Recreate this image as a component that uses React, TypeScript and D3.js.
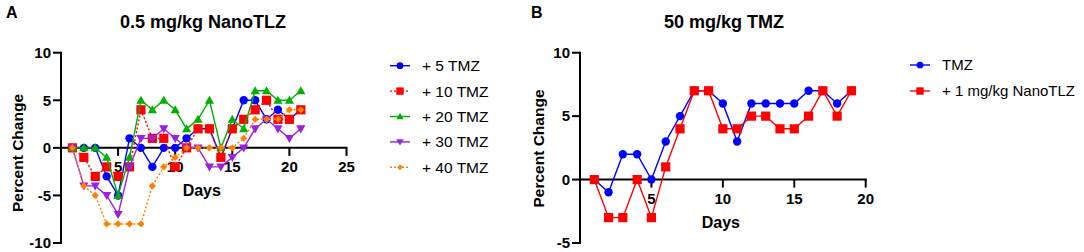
import React from "react";
import * as d3 from "d3";

const daysA = d3.range(1, 22);
const tmz5 = [0, 0, 0, -3, -5, 1, 0, -2, 0, 0, 1, 2, 2, -1, 2, 5, 5, 3, 4, 3, 4];
const tmz10 = [0, -1, -3, -2, -3, -2, 4, 1, 1, -2, 0, 2, 2, -1, 2, 3, 4, 5, 3, 3, 4];
const tmz20 = [0, 0, 0, -1, -5, -1, 5, 4, 5, 4, 2, 3, 5, 0, 3, 2, 6, 6, 5, 5, 6];
const tmz30 = [0, -4, -4, -5, -7, -2, 1, 1, 2, 1, 0, 0, -2, -2, -1, 0, 2, 3, 2, 1, 2];
const tmz40 = [0, -4, -5, -8, -8, -8, -8, -4, -2, -1, 0, 0, 0, 0, 0, 1, 3, 3, 3, 4, 4];

const daysB = d3.range(1, 20);
const tmzOnly = [0, -1, 2, 2, 0, 3, 5, 7, 7, 6, 3, 6, 6, 6, 6, 7, 7, 6, 7];
const tmzNano = [0, -3, -3, 0, -3, 1, 4, 7, 7, 4, 4, 5, 5, 4, 4, 5, 7, 5, 7];

const xTicksA = [5, 10, 15, 20, 25];
const yTicksA = [-10, -5, 0, 5, 10];
const xTicksB = [5, 10, 15, 20];
const yTicksB = [-5, 0, 5, 10];

type Series = { name: string; values: number[]; color: string; shape: string; dashed: boolean };

const seriesA: Series[] = [
  { name: "+ 5 TMZ", values: tmz5, color: "#0000ff", shape: "circle", dashed: false },
  { name: "+ 10 TMZ", values: tmz10, color: "#ff0000", shape: "square", dashed: true },
  { name: "+ 20 TMZ", values: tmz20, color: "#00b000", shape: "triangle", dashed: false },
  { name: "+ 30 TMZ", values: tmz30, color: "#9b1fe0", shape: "triangleDown", dashed: false },
  { name: "+ 40 TMZ", values: tmz40, color: "#ff8000", shape: "diamond", dashed: true },
];
const seriesB: Series[] = [
  { name: "TMZ", values: tmzOnly, color: "#0000ff", shape: "circle", dashed: false },
  { name: "+ 1 mg/kg NanoTLZ", values: tmzNano, color: "#ff0000", shape: "square", dashed: false },
];

const FONT = "Arial, 'Liberation Sans', Helvetica, sans-serif";

function Marker({ shape, x, y, color, scale = 1 }: { shape: string; x: number; y: number; color: string; scale?: number }) {
  const s = scale;
  if (shape === "circle") return <circle cx={x} cy={y} r={4.2 * s} fill={color} />;
  if (shape === "square") return <rect x={x - 4.6 * s} y={y - 4.6 * s} width={9.2 * s} height={9.2 * s} fill={color} />;
  if (shape === "triangle") {
    const r = 4.6 * s;
    return <path d={`M${x},${y - r}L${x + r},${y + r * 0.75}L${x - r},${y + r * 0.75}Z`} fill={color} />;
  }
  if (shape === "triangleDown") {
    const r = 4.6 * s;
    return <path d={`M${x},${y + r}L${x + r},${y - r * 0.75}L${x - r},${y - r * 0.75}Z`} fill={color} />;
  }
  const r = 3.6 * s;
  return <path d={`M${x},${y - r}L${x + r},${y}L${x},${y + r}L${x - r},${y}Z`} fill={color} />;
}

function Panel({
  days, series, xMax, yDomain, xTicks, yTicks, x0, x1, yTop, yBottom, title, titleX, letter, letterX, letterY, ylabelX, ylabelY,
}: {
  days: number[]; series: Series[]; xMax: number; yDomain: [number, number]; xTicks: number[]; yTicks: number[];
  x0: number; x1: number; yTop: number; yBottom: number; title: string; titleX: number; letter: string; letterX: number; letterY: number; ylabelX: number; ylabelY: number;
}) {
  const x = d3.scaleLinear().domain([0, xMax]).range([x0, x1]);
  const y = d3.scaleLinear().domain(yDomain).range([yBottom, yTop]);
  const y0 = y(0);
  const line = d3.line<number>().x((_, i) => x(days[i])).y((v) => y(v));
  return (
    <g>
      <text x={letterX} y={letterY} fontFamily={FONT} fontWeight="bold" fontSize={16}>{letter}</text>
      <text x={titleX} y={28} fontFamily={FONT} fontWeight="bold" fontSize={18} textAnchor="middle">{title}</text>
      {/* y axis */}
      <line x1={x0} x2={x0} y1={yTop - 1} y2={yBottom + 1} stroke="#000" strokeWidth={2} />
      {yTicks.map((t) => (
        <g key={t}>
          <line x1={x0 - 8} x2={x0} y1={y(t)} y2={y(t)} stroke="#000" strokeWidth={2} />
          <text x={x0 - 10} y={y(t)} dy="0.35em" fontFamily={FONT} fontWeight="bold" fontSize={15} textAnchor="end">{t}</text>
        </g>
      ))}
      <text transform={`translate(${ylabelX},${ylabelY}) rotate(-90)`} fontFamily={FONT} fontWeight="bold" fontSize={15.5} textAnchor="middle" dy="0.35em">Percent Change</text>
      {/* x axis */}
      <line x1={x0} x2={x(xMax) + 1} y1={y0} y2={y0} stroke="#000" strokeWidth={2} />
      {xTicks.map((t) => (
        <g key={t}>
          <line x1={x(t)} x2={x(t)} y1={y0} y2={y0 + 8} stroke="#000" strokeWidth={2} />
          <text x={x(t)} y={y0 + 19} dy="0.35em" fontFamily={FONT} fontWeight="bold" fontSize={15} textAnchor="middle">{t}</text>
        </g>
      ))}
      <text x={x(xMax / 2) - 2} y={y0 + 43} dy="0.35em" fontFamily={FONT} fontWeight="bold" fontSize={16} textAnchor="middle">Days</text>
      {series.map((s) => (
        <g key={s.name}>
          <path d={line(s.values) || ""} fill="none" stroke={s.color} strokeWidth={1.4} strokeDasharray={s.dashed ? "2,2" : undefined} />
          {s.values.map((v, i) => (
            <Marker key={i} shape={s.shape} x={x(days[i])} y={y(v)} color={s.color} />
          ))}
        </g>
      ))}
    </g>
  );
}

function Legend({ series, x, y, gap, fontSize }: { series: Series[]; x: number; y: number; gap: number; fontSize: number }) {
  return (
    <g>
      {series.map((s, i) => (
        <g key={s.name} transform={`translate(${x},${y + i * gap})`}>
          <line x1={0} x2={20} y1={0} y2={0} stroke={s.color} strokeWidth={1.4} strokeDasharray={s.dashed ? "2,2" : undefined} />
          <Marker shape={s.shape} x={10} y={0} color={s.color} scale={0.8} />
          <text x={32} y={0} dy="0.35em" fontFamily={FONT} fontSize={fontSize}>{s.name}</text>
        </g>
      ))}
    </g>
  );
}

export default function App() {
  return (
    <svg width={1084} height={252} style={{ position: "absolute", left: 0, top: 0, background: "#fff" }}>
      <rect width={1084} height={252} fill="#fff" />
      <Panel days={daysA} series={seriesA} xMax={25} yDomain={[-10, 10]} xTicks={xTicksA} yTicks={yTicksA}
        x0={61} x1={346.5} yTop={52.7} yBottom={243} title="0.5 mg/kg NanoTLZ" titleX={203} letter="A" letterX={6} letterY={18} ylabelX={18} ylabelY={153} />
      <Legend series={seriesA} x={390} y={65.7} gap={25.4} fontSize={15.5} />
      <Panel days={daysB} series={seriesB} xMax={20} yDomain={[-5, 10]} xTicks={xTicksB} yTicks={yTicksB}
        x0={580} x1={865.7} yTop={52.7} yBottom={243} title="50 mg/kg TMZ" titleX={724} letter="B" letterX={531} letterY={18} ylabelX={539} ylabelY={148.5} />
      <Legend series={seriesB} x={910} y={65} gap={26} fontSize={15} />
    </svg>
  );
}
